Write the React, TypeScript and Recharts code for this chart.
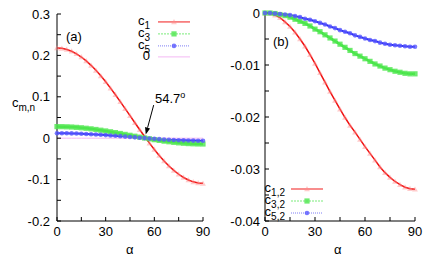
import React from 'react';
import { LineChart, Line, XAxis, YAxis, ReferenceLine, Legend } from 'recharts';

// angle grid (degrees)
const alpha = [0, 3, 6, 9, 12, 15, 18, 21, 24, 27, 30, 33, 36, 39, 42, 45, 48, 51, 54, 57, 60, 63, 66, 69, 72, 75, 78, 81, 84, 87, 90];

// panel (a)
const c1 = [0.218, 0.2171, 0.2144, 0.21, 0.2039, 0.1961, 0.1868, 0.176, 0.1639, 0.1506, 0.1363, 0.121, 0.105, 0.0885, 0.0716, 0.0545, 0.0374, 0.0205, 0.004, -0.012, -0.0273, -0.0416, -0.0549, -0.067, -0.0778, -0.0871, -0.0949, -0.101, -0.1054, -0.1081, -0.109];
const c3 = [0.028, 0.0279, 0.0275, 0.027, 0.0262, 0.0252, 0.024, 0.0226, 0.0211, 0.0193, 0.0175, 0.0155, 0.0135, 0.0114, 0.0092, 0.007, 0.0048, 0.0026, 0.0005, -0.0015, -0.0035, -0.0053, -0.0071, -0.0086, -0.01, -0.0112, -0.0122, -0.013, -0.0135, -0.0139, -0.014];
const c5 = [0.012, 0.012, 0.0118, 0.0116, 0.0112, 0.0108, 0.0103, 0.0097, 0.009, 0.0083, 0.0075, 0.0067, 0.0058, 0.0049, 0.0039, 0.003, 0.0021, 0.0011, 0.0002, -0.0007, -0.0015, -0.0023, -0.003, -0.0037, -0.0043, -0.0048, -0.0052, -0.0056, -0.0058, -0.006, -0.006];
const zero = [0, 0, 0, 0, 0, 0, 0, 0, 0, 0, 0, 0, 0, 0, 0, 0, 0, 0, 0, 0, 0, 0, 0, 0, 0, 0, 0, 0, 0, 0, 0];

// panel (b)
const c12 = [0, -0.0001, -0.0004, -0.0009, -0.0017, -0.0026, -0.0037, -0.005, -0.0064, -0.008, -0.0097, -0.0115, -0.0133, -0.0151, -0.0168, -0.0185, -0.0201, -0.0216, -0.0229, -0.0243, -0.0257, -0.027, -0.0283, -0.0296, -0.0307, -0.0316, -0.0324, -0.033, -0.0335, -0.0338, -0.0339];
const c32 = [0, 0, -0.0001, -0.0003, -0.0005, -0.0008, -0.0012, -0.0016, -0.002, -0.0025, -0.0031, -0.0036, -0.0042, -0.0048, -0.0054, -0.006, -0.0066, -0.0072, -0.0078, -0.0083, -0.0088, -0.0093, -0.0098, -0.0102, -0.0106, -0.0109, -0.0112, -0.0114, -0.0116, -0.0117, -0.0117];
const c52 = [0, 0, -0.0001, -0.0002, -0.0003, -0.0004, -0.0006, -0.0008, -0.0011, -0.0013, -0.0016, -0.0019, -0.0022, -0.0026, -0.0029, -0.0033, -0.0036, -0.0039, -0.0043, -0.0046, -0.0049, -0.0052, -0.0054, -0.0057, -0.0059, -0.0061, -0.0062, -0.0063, -0.0064, -0.0065, -0.0065];

const xTicks = [0, 15, 30, 45, 60, 75, 90];
const xLabels = [0, 30, 60, 90];
const leftYTicks = [-0.2, -0.15, -0.1, -0.05, 0, 0.05, 0.1, 0.15, 0.2, 0.25, 0.3];
const leftYLabels = [-0.2, -0.1, 0, 0.1, 0.2, 0.3];
const rightYTicks = [-0.04, -0.035, -0.03, -0.025, -0.02, -0.015, -0.01, -0.005, 0];
const rightYLabels = [-0.04, -0.03, -0.02, -0.01, 0];

const leftNames = ['c_1', 'c_3', 'c_5', '0'];
const rightNames = ['c_1,2', 'c_3,2', 'c_5,2'];
const magicAngle = 54.7;

const leftData = alpha.map((a, i) => ({ a, c1: c1[i], c3: c3[i], c5: c5[i], z: zero[i] }));
const rightData = alpha.map((a, i) => ({ a, c12: c12[i], c32: c32[i], c52: c52[i] }));

const FONT = '"Liberation Sans", Arial, sans-serif';
const RED = '#f01010';
const GREEN = '#22dd22';
const BLUE = '#2a2aee';
const PINK = '#f4b8f4';

const tickStyle = { fontSize: 13, fill: '#000', fontFamily: FONT };
const fmt = (labels: number[]) => (v: number) => (labels.includes(v) ? String(v) : '');
const blank = () => '';

type Marker = 'tri' | 'sq' | 'circ' | 'none';

function markerShape(kind: Marker, cx: number, cy: number, key?: number) {
  if (kind === 'tri') {
    const s = 2.9;
    return <path key={key} d={`M${cx},${cy - s}L${cx + s},${cy + s * 0.8}L${cx - s},${cy + s * 0.8}Z`} fill="#ff8c8c" fillOpacity={0.45} stroke="none" />;
  }
  if (kind === 'sq') {
    return <rect key={key} x={cx - 2.6} y={cy - 2.6} width={5.2} height={5.2} fill="#55e855" fillOpacity={0.85} stroke="none" />;
  }
  if (kind === 'circ') {
    return <circle key={key} cx={cx} cy={cy} r={2.3} fill="#5858ff" fillOpacity={0.8} stroke="none" />;
  }
  return <g key={key} />;
}

const dotFn = (kind: Marker) => (p: any) => {
  if (p.cx == null || p.cy == null) return <g key={p.index} />;
  return markerShape(kind, p.cx, p.cy, p.index);
};

const markerOf: Record<string, Marker> = { c1: 'tri', c3: 'sq', c5: 'circ', z: 'none', c12: 'tri', c32: 'sq', c52: 'circ' };
const dashOf: Record<string, string | undefined> = { c1: undefined, c3: '2 1', c5: '1 1', z: undefined, c12: undefined, c32: '2 1', c52: '1 1' };

function SubLabel({ name }: { name: string }) {
  const [base, sub] = name.split('_');
  return (
    <span style={{ lineHeight: 0 }}>
      {base}
      {sub && <span style={{ fontSize: 10, position: 'relative', top: 4, lineHeight: 0 }}>{sub}</span>}
    </span>
  );
}

const legendContent = (order: string[], labelW: number, gap: number, lineW: number, rowH: number) => (props: any) => {
  const items = [...(props.payload || [])].sort((p: any, q: any) => order.indexOf(p.value) - order.indexOf(q.value));
  return (
    <div style={{ fontFamily: FONT, fontSize: 13 }}>
      {items.map((it: any) => {
        const key = String(it.dataKey);
        const color = it.color;
        return (
          <div key={key} style={{ position: 'relative', height: rowH }}>
            <div style={{ position: 'absolute', left: 0, top: rowH / 2 - 8, width: labelW, height: 14, lineHeight: '14px', textAlign: 'right' }}>
              <SubLabel name={it.value} />
            </div>
            <svg width={lineW} height={rowH} style={{ position: 'absolute', left: labelW + gap, top: 0, display: 'block' }}>
              <line x1={0} y1={rowH / 2} x2={lineW} y2={rowH / 2} stroke={key === 'z' ? PINK : color} strokeOpacity={key === 'z' ? 1 : 0.6} strokeWidth={key === 'c1' || key === 'c12' ? 1.6 : 1} strokeDasharray={dashOf[key]} />
              {markerShape(markerOf[key], lineW / 2, rowH / 2)}
            </svg>
          </div>
        );
      })}
    </div>
  );
};

const arrowShape = (p: any) => {
  const { x1, y1, x2, y2 } = p;
  if ([x1, y1, x2, y2].some((v) => v == null || isNaN(v))) return <g />;
  const dx = x2 - x1;
  const dy = y2 - y1;
  const len = Math.sqrt(dx * dx + dy * dy);
  const ux = dx / len;
  const uy = dy / len;
  const hl = 7;
  const hw = 2.6;
  const bx = x2 - ux * hl;
  const by = y2 - uy * hl;
  return (
    <g>
      <line x1={x1} y1={y1} x2={bx} y2={by} stroke="#000" strokeWidth={1} />
      <path d={`M${x2},${y2}L${bx - uy * hw},${by + ux * hw}L${bx + uy * hw},${by - ux * hw}Z`} fill="#000" />
    </g>
  );
};

const text = (left: number, top: number, children: React.ReactNode, size = 13) => (
  <div style={{ position: 'absolute', left, top, fontFamily: FONT, fontSize: size, lineHeight: 1, color: '#000', whiteSpace: 'nowrap' }}>{children}</div>
);

export default function App() {
  return (
    <div style={{ position: 'fixed', left: 0, top: 0, width: 436, height: 259, background: '#fff', overflow: 'hidden' }}>
      <div style={{ position: 'absolute', left: 0, top: 0 }}>
        <LineChart width={215} height={259} data={leftData} margin={{ top: 14, right: 12, bottom: 8, left: 0 }}>
          <XAxis dataKey="a" type="number" domain={[0, 90]} ticks={xTicks} tickFormatter={fmt(xLabels)} height={30} tickSize={-4} tickMargin={10} tick={tickStyle} stroke="#000" interval={0} />
          <XAxis xAxisId="top" orientation="top" dataKey="a" type="number" domain={[0, 90]} ticks={xTicks} tickFormatter={blank} height={0} tickSize={-4} stroke="#000" interval={0} />
          <YAxis type="number" domain={[-0.2, 0.3]} ticks={leftYTicks} tickFormatter={fmt(leftYLabels)} width={57} tickSize={-4} tickMargin={11} tick={tickStyle} stroke="#000" interval={0} />
          <YAxis yAxisId="right" orientation="right" type="number" domain={[-0.2, 0.3]} ticks={leftYTicks} tickFormatter={blank} width={0} tickSize={-4} stroke="#000" interval={0} />
          <Line dataKey="c1" name={leftNames[0]} stroke={RED} strokeWidth={1.5} dot={dotFn('tri')} isAnimationActive={false} />
          <Line dataKey="c3" name={leftNames[1]} stroke={GREEN} strokeWidth={2.5} dot={dotFn('sq')} isAnimationActive={false} />
          <Line dataKey="c5" name={leftNames[2]} stroke={BLUE} strokeWidth={2} dot={dotFn('circ')} isAnimationActive={false} />
          <Line dataKey="z" name={leftNames[3]} stroke={PINK} strokeWidth={1} dot={false} isAnimationActive={false} />
          <ReferenceLine segment={[{ x: 59.6, y: 0.08 }, { x: magicAngle, y: 0.009 }]} shape={arrowShape} />
          <Legend layout="vertical" align="center" verticalAlign="middle" content={legendContent(leftNames, 32, 8, 32, 11.8)} wrapperStyle={{ left: 118, top: 16, width: 80, height: 48 }} />
        </LineChart>
      </div>
      <div style={{ position: 'absolute', left: 208, top: 0 }}>
        <LineChart width={220} height={259} data={rightData} margin={{ top: 13, right: 13, bottom: 8, left: 0 }}>
          <XAxis dataKey="a" type="number" domain={[0, 90]} ticks={xTicks} tickFormatter={fmt(xLabels)} height={30} tickSize={-4} tickMargin={10} tick={tickStyle} stroke="#000" interval={0} />
          <XAxis xAxisId="top" orientation="top" dataKey="a" type="number" domain={[0, 90]} ticks={xTicks} tickFormatter={blank} height={0} tickSize={-4} stroke="#000" interval={0} />
          <YAxis type="number" domain={[-0.04, 0]} ticks={rightYTicks} tickFormatter={fmt(rightYLabels)} width={57} tickSize={-4} tickMargin={9} tick={tickStyle} stroke="#000" interval={0} />
          <YAxis yAxisId="right" orientation="right" type="number" domain={[-0.04, 0]} ticks={rightYTicks} tickFormatter={blank} width={0} tickSize={-4} stroke="#000" interval={0} />
          <Line dataKey="c12" name={rightNames[0]} stroke={RED} strokeWidth={1.5} dot={dotFn('tri')} isAnimationActive={false} />
          <Line dataKey="c32" name={rightNames[1]} stroke={GREEN} strokeWidth={2.5} dot={dotFn('sq')} isAnimationActive={false} />
          <Line dataKey="c52" name={rightNames[2]} stroke={BLUE} strokeWidth={2} dot={dotFn('circ')} isAnimationActive={false} />
          <Legend layout="vertical" align="center" verticalAlign="middle" content={legendContent(rightNames, 27, 6, 32, 12)} wrapperStyle={{ left: 50, top: 183, width: 70, height: 36 }} />
        </LineChart>
      </div>
      {text(66, 30, '(a)')}
      {text(273, 35, '(b)')}
      {text(155, 92, <span>54.7<span style={{ fontSize: 9, position: 'relative', top: -5 }}>o</span></span>)}
      {text(12, 96, <SubLabel name="c_m,n" />)}
      {text(126, 243, 'α')}
      {text(334, 243, 'α')}
    </div>
  );
}
